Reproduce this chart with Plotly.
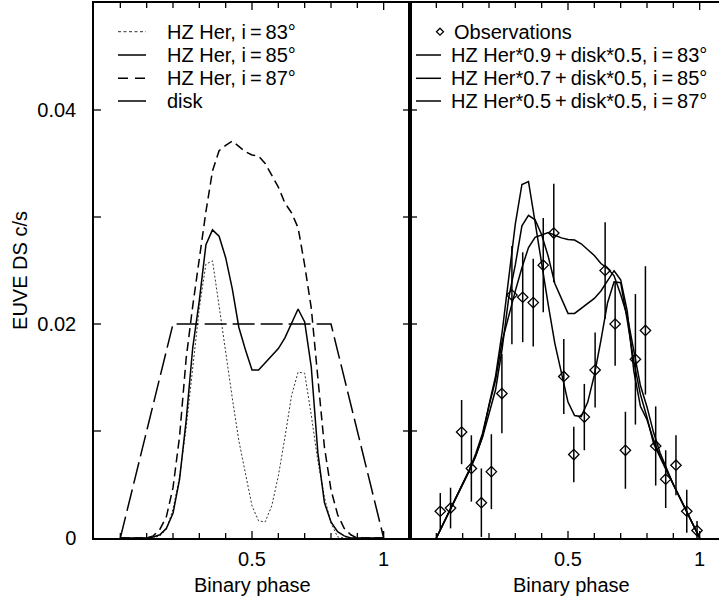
import numpy as np
import plotly.graph_objects as go

# ---- model light curves (HZ Her contribution for three inclinations) ----
phase = [0.000, 0.025, 0.050, 0.075, 0.100, 0.125, 0.150, 0.175, 0.200, 0.225,
         0.250, 0.275, 0.300, 0.325, 0.350, 0.375, 0.400, 0.425, 0.450, 0.475,
         0.500, 0.525, 0.550, 0.575, 0.600, 0.625, 0.650, 0.675, 0.700, 0.725,
         0.750, 0.775, 0.800, 0.825, 0.850, 0.875, 0.900, 0.925, 0.950, 0.975, 1.000]

hz83 = [0, 0, 0, 0, 0, 0, 0.0002, 0.0008, 0.0027, 0.0057,
        0.0103, 0.0157, 0.0215, 0.0256, 0.0259, 0.0217, 0.0172, 0.0131, 0.0091, 0.0059,
        0.0030, 0.0016, 0.0015, 0.0030, 0.0058, 0.0094, 0.0133, 0.0155, 0.0154, 0.0115,
        0.0072, 0.0038, 0.0014, 0.0001, 0, 0, 0, 0, 0, 0, 0]

hz85 = [0, 0, 0, 0, 0, 0.0001, 0.0003, 0.0009, 0.0023, 0.0055,
        0.0110, 0.0178, 0.0222, 0.0274, 0.0288, 0.0282, 0.0262, 0.0233, 0.0197, 0.0176,
        0.0157, 0.0157, 0.0164, 0.0170, 0.0177, 0.0187, 0.0200, 0.0214, 0.0202, 0.0160,
        0.0080, 0.0033, 0.0015, 0.0006, 0.0002, 0, 0, 0, 0, 0, 0]

hz87 = [0, 0, 0, 0, 0, 0.0002, 0.0008, 0.0020, 0.0047, 0.0095,
        0.0168, 0.0217, 0.0262, 0.0305, 0.0343, 0.0362, 0.0367, 0.0371, 0.0366, 0.0361,
        0.0358, 0.0357, 0.0350, 0.0339, 0.0328, 0.0313, 0.0304, 0.0290, 0.0255, 0.0215,
        0.0150, 0.0085, 0.0045, 0.0022, 0.0009, 0.0003, 0, 0, 0, 0, 0]

# accretion disk contribution (trapezoid)
disk_phase = [0.0, 0.2, 0.8, 1.0]
disk_rate = [0.0, 0.02, 0.02, 0.0]

# ---- EUVE DS observations ----
obs_phase = [0.015, 0.054, 0.096, 0.133, 0.171, 0.209, 0.249, 0.287, 0.328, 0.368,
             0.406, 0.446, 0.484, 0.522, 0.562, 0.603, 0.641, 0.679, 0.718, 0.756,
             0.794, 0.833, 0.871, 0.910, 0.951, 0.990]
obs_rate = [0.0025, 0.0028, 0.0099, 0.0065, 0.0033, 0.0062, 0.0135, 0.0227, 0.0225, 0.0220,
            0.0255, 0.0285, 0.0151, 0.0078, 0.0113, 0.0157, 0.0250, 0.0200, 0.0082, 0.0167,
            0.0194, 0.0086, 0.0055, 0.0068, 0.0025, 0.0007]
obs_err = [0.0017, 0.0019, 0.0030, 0.0031, 0.0032, 0.0035, 0.0037, 0.0046, 0.0042, 0.0041,
           0.0044, 0.0046, 0.0035, 0.0026, 0.0031, 0.0035, 0.0045, 0.0039, 0.0036, 0.0061,
           0.0060, 0.0037, 0.0027, 0.0028, 0.0020, 0.0009]

# combined models: HZ Her * w + disk * 0.5
hz_weights = [0.9, 0.7, 0.5]
disk_weight = 0.5

# tick positions and labels
x_ticks = [0.0, 0.1, 0.2, 0.3, 0.4, 0.5, 0.6, 0.7, 0.8, 0.9, 1.0]
x_ticklabels = ["", "", "", "", "", "0.5", "", "", "", "", "1"]
y_ticks = [0.0, 0.01, 0.02, 0.03, 0.04]
y_ticklabels = ["0", "", "0.02", "", "0.04"]

X_MIN, X_MAX_LEFT = -0.1, 1.1
Y_MAX = 0.05

FONT = "Liberation Sans, Arial, Helvetica, sans-serif"
W, H = 719, 596
ML, MR, MT, MB = 94, 0, 3, 58
split_px = 410
PLOT_W = W - ML - MR
PLOT_H = H - MT - MB
left_w = split_px - ML
right_w = W - MR - split_px
unit = left_w / (X_MAX_LEFT - X_MIN)
x2_max = X_MIN + right_w / unit


def px(x):
    return (x - ML) / PLOT_W


def py(y):
    return (H - MB - y) / PLOT_H


fig = go.Figure()

# left panel: model components
fig.add_trace(go.Scatter(x=phase, y=hz83, mode="lines", xaxis="x", yaxis="y",
                         line=dict(color="#333333", width=1, dash="2px,2px")))
fig.add_trace(go.Scatter(x=phase, y=hz85, mode="lines", xaxis="x", yaxis="y",
                         line=dict(color="black", width=1.5)))
fig.add_trace(go.Scatter(x=phase, y=hz87, mode="lines", xaxis="x", yaxis="y",
                         line=dict(color="black", width=1.5, dash="9px,5px")))
fig.add_trace(go.Scatter(x=disk_phase, y=disk_rate, mode="lines", xaxis="x", yaxis="y",
                         line=dict(color="black", width=1.5, dash="22px,6px")))

# right panel: combined models
disk_on_grid = np.interp(phase, disk_phase, disk_rate)
for comp, w in zip([hz83, hz85, hz87], hz_weights):
    total = np.array(comp) * w + disk_on_grid * disk_weight
    fig.add_trace(go.Scatter(x=phase, y=total, mode="lines", xaxis="x2", yaxis="y2",
                             line=dict(color="black", width=1.5)))

# right panel: observations
fig.add_trace(go.Scatter(
    x=obs_phase, y=obs_rate, mode="markers", xaxis="x2", yaxis="y2",
    marker=dict(symbol="diamond-open", size=8, color="black", line=dict(width=1.3)),
    error_y=dict(type="data", array=obs_err, visible=True, width=0,
                 thickness=1.5, color="black"),
))

axis_common = dict(
    showline=True, linecolor="black", linewidth=1.5,
    showgrid=False, zeroline=False, ticks="",
    tickfont=dict(family=FONT, size=20, color="black"),
)

split = px(split_px)

fig.update_layout(
    width=W, height=H,
    margin=dict(l=ML, r=MR, t=MT, b=MB),
    paper_bgcolor="white", plot_bgcolor="white",
    showlegend=False,
    font=dict(family=FONT, size=20, color="black"),
    xaxis=dict(domain=[0, split], range=[X_MIN, X_MAX_LEFT], anchor="y",
               tickmode="array", tickvals=x_ticks, ticktext=x_ticklabels,
               ticklabelstandoff=2, mirror=True, **axis_common),
    xaxis2=dict(domain=[split, 1], range=[X_MIN, x2_max], anchor="y2",
                tickmode="array", tickvals=x_ticks, ticktext=x_ticklabels,
                ticklabelstandoff=2, mirror=True, **axis_common),
    yaxis=dict(domain=[0, 1], range=[0, Y_MAX], anchor="x",
               tickmode="array", tickvals=y_ticks, ticktext=y_ticklabels,
               ticklabelstandoff=12, mirror=True,
               title=dict(text="EUVE DS c/s", standoff=4,
                          font=dict(family=FONT, size=20, color="black")),
               **axis_common),
    yaxis2=dict(domain=[0, 1], range=[0, Y_MAX], anchor="x2",
                tickmode="array", tickvals=y_ticks, showticklabels=False,
                **axis_common),
)

# tick marks pointing into each panel (bottom/top edges and both sides of the divider)
tick_line = dict(color="black", width=1.3)
bottom_px, top_px = H - MB, MT


def tick(x0, y0, x1, y1):
    fig.add_shape(type="line", xref="paper", yref="paper",
                  x0=px(x0), x1=px(x1), y0=py(y0), y1=py(y1), line=tick_line)


for origin in (ML, split_px):
    for t in x_ticks:
        xx = origin + (t - X_MIN) * unit
        ln = 7 if t in (0.5, 1.0) else 5
        tick(xx, bottom_px, xx, bottom_px - ln)
        tick(xx, top_px, xx, top_px + ln)
for t in y_ticks[1:]:
    yy = bottom_px - t / Y_MAX * PLOT_H
    tick(ML, yy, ML + 7, yy)
    tick(split_px - 7, yy, split_px + 7, yy)

# axis titles
for xr, xv in (("x", 0.5), ("x2", 0.515)):
    fig.add_annotation(x=xv, xref=xr, y=py(585), yref="paper", text="Binary phase",
                       showarrow=False, xanchor="center", yanchor="middle",
                       font=dict(family=FONT, size=20, color="black"))

# legends
row_y = [31.7, 55.0, 78.3, 101.0]
left_labels = ["HZ Her, i\u2009=\u200983°", "HZ Her, i\u2009=\u200985°",
               "HZ Her, i\u2009=\u200987°", "disk"]
left_styles = [dict(color="#333333", width=1, dash="3px,2.5px"),
               dict(color="black", width=1.5),
               dict(color="black", width=1.5, dash="10px,7px"),
               dict(color="black", width=1.5)]
for yy, lab, st in zip(row_y, left_labels, left_styles):
    fig.add_shape(type="line", xref="paper", yref="paper",
                  x0=px(118), x1=px(146), y0=py(yy), y1=py(yy), line=st)
    fig.add_annotation(x=px(165), y=py(yy), xref="paper", yref="paper", text=lab,
                       showarrow=False, xanchor="left", yanchor="middle",
                       font=dict(family=FONT, size=20, color="black"))

right_labels = ["Observations",
                "HZ Her*0.9\u2009+\u2009disk*0.5, i\u2009=\u200983°",
                "HZ Her*0.7\u2009+\u2009disk*0.5, i\u2009=\u200985°",
                "HZ Her*0.5\u2009+\u2009disk*0.5, i\u2009=\u200987°"]
cx, cy, r = 440, row_y[0], 3.5
fig.add_shape(type="path", xref="paper", yref="paper",
              path=(f"M {px(cx - r)} {py(cy)} L {px(cx)} {py(cy - r)} "
                    f"L {px(cx + r)} {py(cy)} L {px(cx)} {py(cy + r)} Z"),
              line=dict(color="black", width=1.3))
fig.add_annotation(x=px(452), y=py(row_y[0]), xref="paper", yref="paper",
                   text=right_labels[0], showarrow=False, xanchor="left",
                   yanchor="middle", font=dict(family=FONT, size=20, color="black"))
for yy, lab in zip(row_y[1:], right_labels[1:]):
    fig.add_shape(type="line", xref="paper", yref="paper",
                  x0=px(416), x1=px(441), y0=py(yy), y1=py(yy),
                  line=dict(color="black", width=1.5))
    fig.add_annotation(x=px(449), y=py(yy), xref="paper", yref="paper", text=lab,
                       showarrow=False, xanchor="left", yanchor="middle",
                       font=dict(family=FONT, size=20, color="black"))

fig.write_html("out.html")
